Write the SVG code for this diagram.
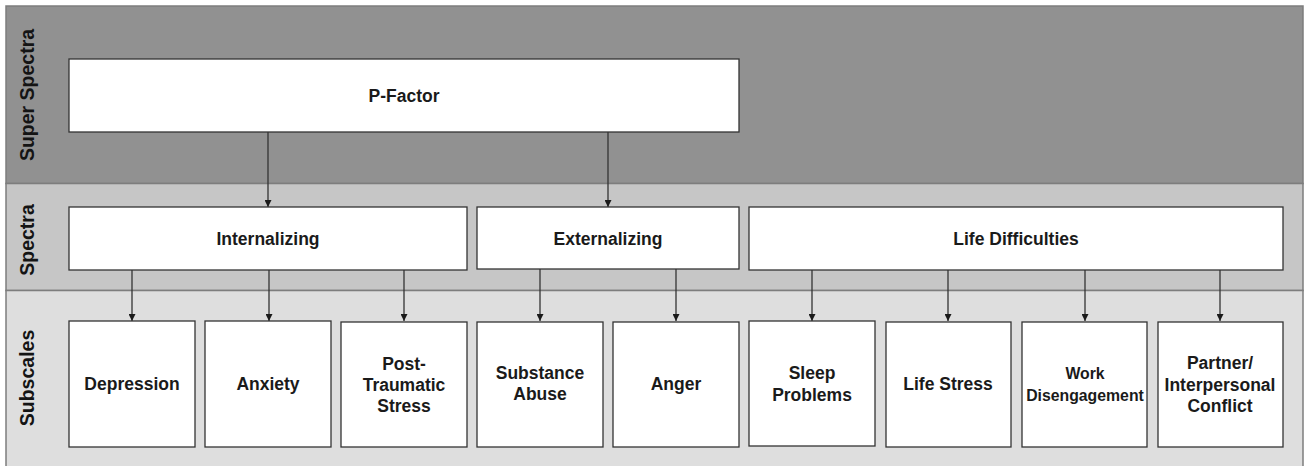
<svg xmlns="http://www.w3.org/2000/svg" width="1306" height="466" viewBox="0 0 1306 466">
<defs>
<style>
.box{fill:#ffffff;stroke:#333333;stroke-width:1.3}
.t{font-family:"Liberation Sans",Arial,sans-serif;font-weight:bold;font-size:17.5px;fill:#1a1a1a;text-anchor:middle;dominant-baseline:central}
.sm{font-size:15.8px}
.lane{font-family:"Liberation Sans",Arial,sans-serif;font-weight:bold;font-size:19.5px;fill:#141414;text-anchor:middle;dominant-baseline:central}
.conn{stroke:#333333;stroke-width:1.3;fill:none;marker-end:url(#ah)}
</style>
<marker id="ah" viewBox="0 0 10 10" refX="10" refY="5" markerWidth="7" markerHeight="7" markerUnits="userSpaceOnUse" orient="auto">
<path d="M0,0 L10,5 L0,10 Z" fill="#1a1a1a"/>
</marker>
</defs>
<rect x="0" y="0" width="1306" height="466" fill="#ffffff"/>
<g id="lanes">
<rect x="6" y="6" width="1297" height="177.5" fill="#919191" stroke="#7d7d7d" stroke-width="1.5"/>
<rect x="6" y="183.5" width="1297" height="107" fill="#c6c6c6" stroke="#7d7d7d" stroke-width="1.5"/>
<rect x="6" y="290.5" width="1297" height="180" fill="#dedede" stroke="#7d7d7d" stroke-width="1.5"/>
<text class="lane" transform="translate(27,95) rotate(-90)">Super Spectra</text>
<text class="lane" transform="translate(27,240) rotate(-90)">Spectra</text>
<text class="lane" transform="translate(27,378) rotate(-90)">Subscales</text>
</g>
<g id="connectors">
<line class="conn" x1="268" y1="132" x2="268" y2="207"/>
<line class="conn" x1="608" y1="132" x2="608" y2="207"/>
<line class="conn" x1="132" y1="270" x2="132" y2="321"/>
<line class="conn" x1="269" y1="270" x2="269" y2="321"/>
<line class="conn" x1="404" y1="270" x2="404" y2="321"/>
<line class="conn" x1="540" y1="269" x2="540" y2="321"/>
<line class="conn" x1="676" y1="269" x2="676" y2="321"/>
<line class="conn" x1="812" y1="270" x2="812" y2="321"/>
<line class="conn" x1="948" y1="270" x2="948" y2="321"/>
<line class="conn" x1="1085" y1="270" x2="1085" y2="321"/>
<line class="conn" x1="1220" y1="270" x2="1220" y2="321"/>
</g>
<g id="pfactor"><rect class="box" x="69" y="59" width="670" height="73"/><text class="t" x="404" y="96">P-Factor</text></g>
<g id="internalizing"><rect class="box" x="69" y="207" width="398" height="63"/><text class="t" x="268" y="238.5">Internalizing</text></g>
<g id="externalizing"><rect class="box" x="477" y="207" width="262" height="62"/><text class="t" x="608" y="238.5">Externalizing</text></g>
<g id="lifedifficulties"><rect class="box" x="749" y="207" width="534" height="63"/><text class="t" x="1016" y="238.5">Life Difficulties</text></g>
<g id="depression"><rect class="box" x="69" y="321" width="126" height="126"/><text class="t" x="132" y="384">Depression</text></g>
<g id="anxiety"><rect class="box" x="205" y="321" width="126" height="126"/><text class="t" x="268" y="384">Anxiety</text></g>
<g id="pts"><rect class="box" x="341" y="322" width="126" height="125"/><text class="t" x="404" y="364">Post-</text><text class="t" x="404" y="385">Traumatic</text><text class="t" x="404" y="406">Stress</text></g>
<g id="substance"><rect class="box" x="477" y="322" width="126" height="125"/><text class="t" x="540" y="373">Substance</text><text class="t" x="540" y="394">Abuse</text></g>
<g id="anger"><rect class="box" x="613" y="322" width="126" height="125"/><text class="t" x="676" y="384">Anger</text></g>
<g id="sleep"><rect class="box" x="749" y="321" width="126" height="125"/><text class="t" x="812" y="373">Sleep</text><text class="t" x="812" y="395">Problems</text></g>
<g id="lifestress"><rect class="box" x="886" y="322" width="125" height="125"/><text class="t" x="948" y="384">Life Stress</text></g>
<g id="work"><rect class="box" x="1022" y="322" width="125" height="125"/><text class="t sm" x="1085" y="373">Work</text><text class="t sm" x="1085" y="395">Disengagement</text></g>
<g id="partner"><rect class="box" x="1158" y="322" width="125" height="125"/><text class="t" x="1220" y="363">Partner/</text><text class="t" x="1220" y="384.5">Interpersonal</text><text class="t" x="1220" y="406">Conflict</text></g>
</svg>
